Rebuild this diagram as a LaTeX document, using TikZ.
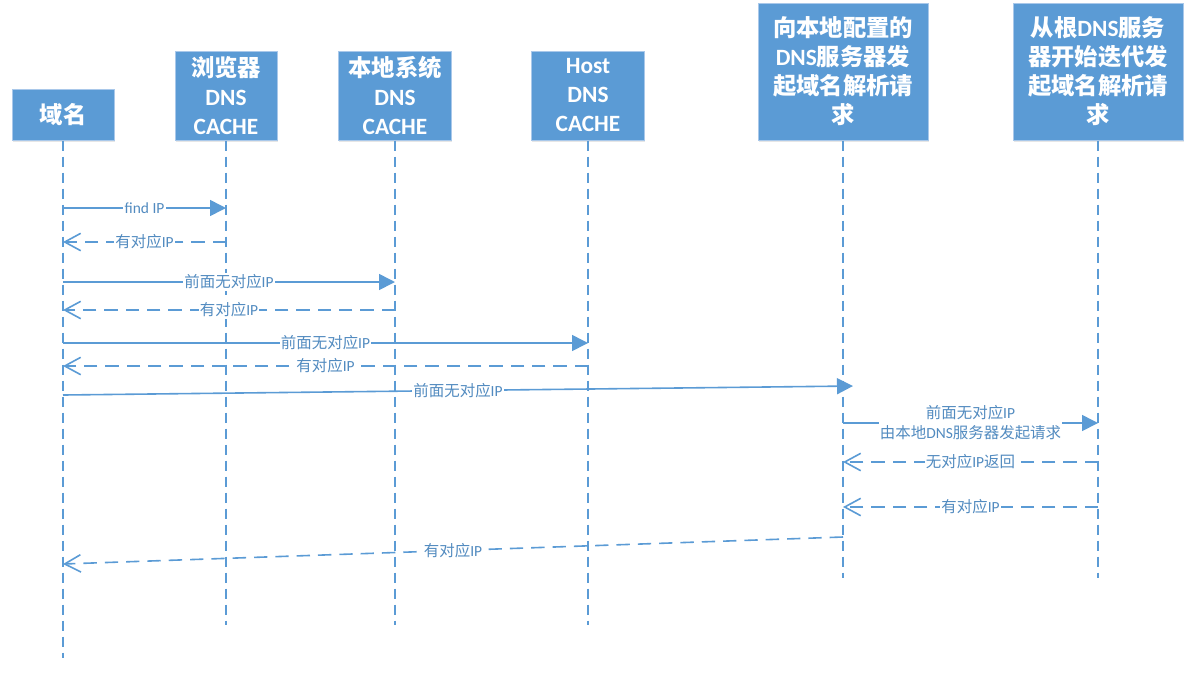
\documentclass[tikz,border=0pt]{standalone}
\usepackage{fontspec}
\setmainfont{Carlito}
\newfontfamily\cjk{Noto Sans CJK SC}
\newcommand{\zh}[1]{{\cjk #1}}
\usetikzlibrary{arrows.meta,shadows}
\definecolor{officeblue}{HTML}{5B9BD5}
\definecolor{boxedge}{HTML}{A9C8EA}
\tikzset{
	head/.style={rectangle,fill=officeblue,draw=boxedge,line width=0.75pt,text=white,font=\bfseries\fontsize{17.5}{21.75}\selectfont,align=center,inner sep=0pt,drop shadow={shadow xshift=0.5pt,shadow yshift=-1.5pt,opacity=0.2}},
	life/.style={color=officeblue,line width=1.5pt,dash pattern=on 7.5pt off 4.5pt},
	call/.style={-{Triangle[width=12pt,length=12pt]},color=officeblue,line width=1.2pt},
	ret/.style={-{Straight Barb[width=13pt,length=12pt]},color=officeblue,line width=1.2pt,dash pattern=on 10pt off 6pt},
	msglabel/.style={fill=white,text=officeblue!90!black,font=\fontsize{11.6}{15}\selectfont,align=center,inner sep=1pt}
}
\begin{document}
\begin{tikzpicture}[x=0.75pt,y=-0.75pt]
		\useasboundingbox (0,0) rectangle (1191,676);
		\node [head, minimum width=76.5pt, minimum height=38.25pt] (0) at (63,114.5) {\zh{域名}};
		\node [head, minimum width=76.5pt, minimum height=66.75pt] (1) at (226,95.5) {\zh{浏览器}\\DNS\\CACHE};
		\node [head, minimum width=84.75pt, minimum height=66.75pt] (2) at (395,95.5) {\zh{本地系统}\\DNS\\CACHE};
		\node [head, minimum width=84.75pt, minimum height=66.75pt] (3) at (588,95.5) {Host\\DNS\\CACHE};
		\node [head, minimum width=127.5pt, minimum height=102.75pt] (4) at (843,71.5) {\zh{向本地配置的}\\DNS\zh{服务器发}\\\zh{起域名解析请}\\\zh{求}};
		\node [head, minimum width=127.5pt, minimum height=102.75pt] (5) at (1098,71.5) {\zh{从根}DNS\zh{服务}\\\zh{器开始迭代发}\\\zh{起域名解析请}\\\zh{求}};
		
		\coordinate (0e) at (63,658);
		\coordinate (1e) at (226,625);
		\coordinate (2e) at (395,625);
		\coordinate (3e) at (588,625);
		\coordinate (4e) at (843,578);
		\coordinate (5e) at (1098,578);
		
		\coordinate (a1) at (63,208);
		\coordinate (b1) at (226,208);
		\coordinate (a2) at (226,242);
		\coordinate (b2) at (63,242);
		\coordinate (a3) at (63,282);
		\coordinate (b3) at (395,282);
		\coordinate (a4) at (395,310);
		\coordinate (b4) at (63,310);
		\coordinate (a5) at (63,343);
		\coordinate (b5) at (588,343);
		\coordinate (a6) at (588,366);
		\coordinate (b6) at (63,366);
		\coordinate (a7) at (63,395);
		\coordinate (b7) at (853,386);
		\coordinate (a8) at (843,423);
		\coordinate (b8) at (1098,423);
		\coordinate (a9) at (1098,462);
		\coordinate (b9) at (843,462);
		\coordinate (a10) at (1098,507);
		\coordinate (b10) at (843,507);
		\coordinate (a11) at (843,537);
		\coordinate (b11) at (63,564);
		
		\draw [life] (0) to (0e);
		\draw [life] (1) to (1e);
		\draw [life] (2) to (2e);
		\draw [life] (3) to (3e);
		\draw [life] (4) to (4e);
		\draw [life] (5) to (5e);
		
		\draw [call] (a1) to node [msglabel] {find IP} (b1);
		\draw [ret] (a2) to node [msglabel] {\zh{有对应}IP} (b2);
		\draw [call] (a3) to node [msglabel] {\zh{前面无对应}IP} (b3);
		\draw [ret] (a4) to node [msglabel] {\zh{有对应}IP} (b4);
		\draw [call] (a5) to node [msglabel] {\zh{前面无对应}IP} (b5);
		\draw [ret] (a6) to node [msglabel] {\zh{有对应}IP} (b6);
		\draw [call] (a7) to node [msglabel] {\zh{前面无对应}IP} (b7);
		\draw [call] (a8) to node [msglabel] {\zh{前面无对应}IP\\\zh{由本地}DNS\zh{服务器发起请求}} (b8);
		\draw [ret] (a9) to node [msglabel] {\zh{无对应}IP\zh{返回}} (b9);
		\draw [ret] (a10) to node [msglabel] {\zh{有对应}IP} (b10);
		\draw [ret] (a11) to node [msglabel] {\zh{有对应}IP} (b11);
		
	\end{tikzpicture}
\end{document}
